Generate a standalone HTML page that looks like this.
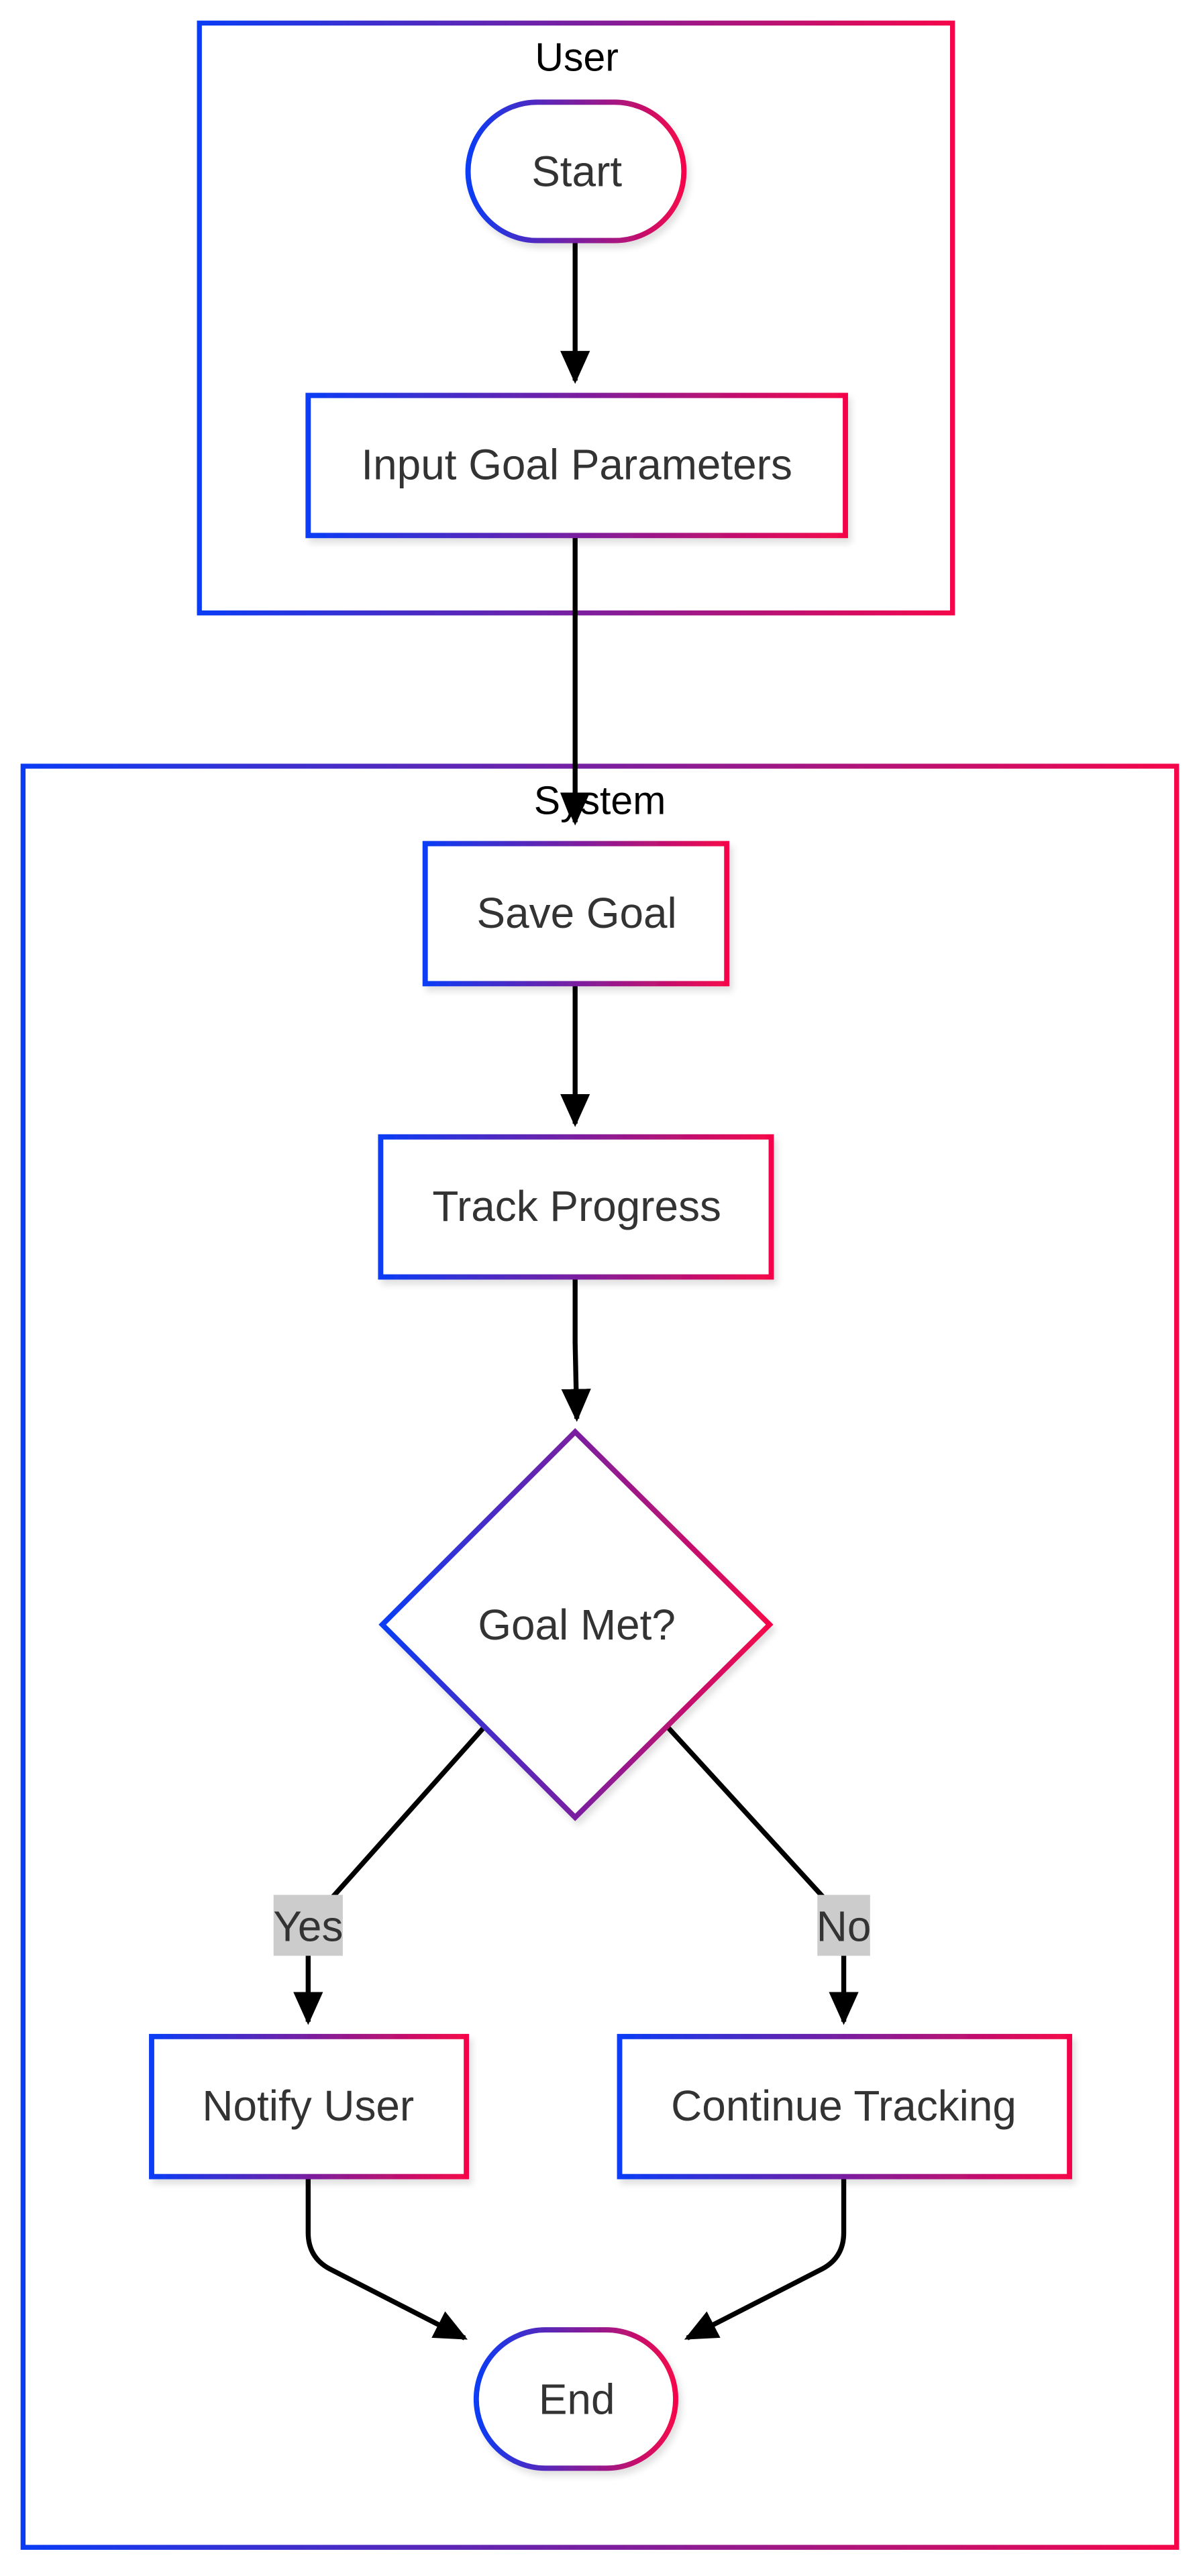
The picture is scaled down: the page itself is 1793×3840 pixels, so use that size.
<!DOCTYPE html>
<html><head><meta charset="utf-8"><style>
html,body{margin:0;padding:0;background:#fff;}
svg{display:block;}
text{font-family:"Liberation Sans",Arial,sans-serif;}
</style></head><body>
<svg width="1793" height="3840" viewBox="0 0 730 1563.4" preserveAspectRatio="none" xmlns="http://www.w3.org/2000/svg">
<defs>
<linearGradient id="g" x1="0" y1="0" x2="1" y2="0">
<stop offset="0" stop-color="#0a3cf5"/><stop offset="0.5" stop-color="#7a1fa0"/><stop offset="1" stop-color="#f5064a"/>
</linearGradient>
<filter id="sh" x="-10%" y="-10%" width="125%" height="130%"><feDropShadow dx="2" dy="3" stdDev="3" flood-color="#000" flood-opacity="0.12"/></filter>
<marker id="a" markerWidth="20" markerHeight="20" refX="18" refY="10" orient="auto" markerUnits="userSpaceOnUse" viewBox="0 0 20 20">
<path d="M0,1 L20,10 L0,19 z" fill="#000"/></marker>
</defs>
<g fill="none" stroke="url(#g)" stroke-width="3">
<rect x="121" y="14" width="457" height="358"/>
<rect x="14" y="465" width="700" height="1081"/>
</g>
<text x="350" y="43" font-size="24" text-anchor="middle" fill="#000">User</text>
<text x="364" y="494" font-size="24" text-anchor="middle" fill="#000">System</text>
<g stroke="#000" stroke-width="3" fill="none">
<line x1="349" y1="146" x2="349" y2="231" marker-end="url(#a)"/>
<line x1="349" y1="325" x2="349" y2="499" marker-end="url(#a)"/>
<line x1="349" y1="597" x2="349" y2="682" marker-end="url(#a)"/>
<path d="M349,775 L349,815 L350,861" marker-end="url(#a)"/>
<path d="M294,1048 L187,1168 L187,1227" marker-end="url(#a)"/>
<path d="M405,1048 L512,1165 L512,1227" marker-end="url(#a)"/>
<path d="M187,1321 L187,1355 Q187,1370 200,1377 L282,1419" marker-end="url(#a)"/>
<path d="M512,1321 L512,1355 Q512,1370 499,1377 L417,1419" marker-end="url(#a)"/>
</g>
<g fill="#fff" stroke="url(#g)" stroke-width="3.2" filter="url(#sh)">
<rect x="284" y="62" width="131" height="84" rx="42"/>
<rect x="187" y="240" width="326" height="85"/>
<rect x="258" y="512" width="183" height="85"/>
<rect x="231" y="690" width="237" height="85"/>
<path d="M349,869 L467,986 L349,1103 L232,986 Z"/>
<rect x="92" y="1236" width="191" height="85"/>
<rect x="376" y="1236" width="273" height="85"/>
<rect x="289" y="1414" width="121" height="84" rx="42"/>
</g>
<rect x="166" y="1150" width="42" height="37" fill="#ccc"/>
<rect x="496" y="1150" width="32" height="37" fill="#ccc"/>
<g font-size="26" text-anchor="middle" fill="#333">
<text x="350" y="113">Start</text>
<text x="350" y="291">Input Goal Parameters</text>
<text x="350" y="563">Save Goal</text>
<text x="350" y="741">Track Progress</text>
<text x="350" y="995">Goal Met?</text>
<text x="187" y="1178">Yes</text>
<text x="512" y="1178">No</text>
<text x="187" y="1287">Notify User</text>
<text x="512" y="1287">Continue Tracking</text>
<text x="350" y="1465">End</text>
</g>
</svg>
</body></html>
